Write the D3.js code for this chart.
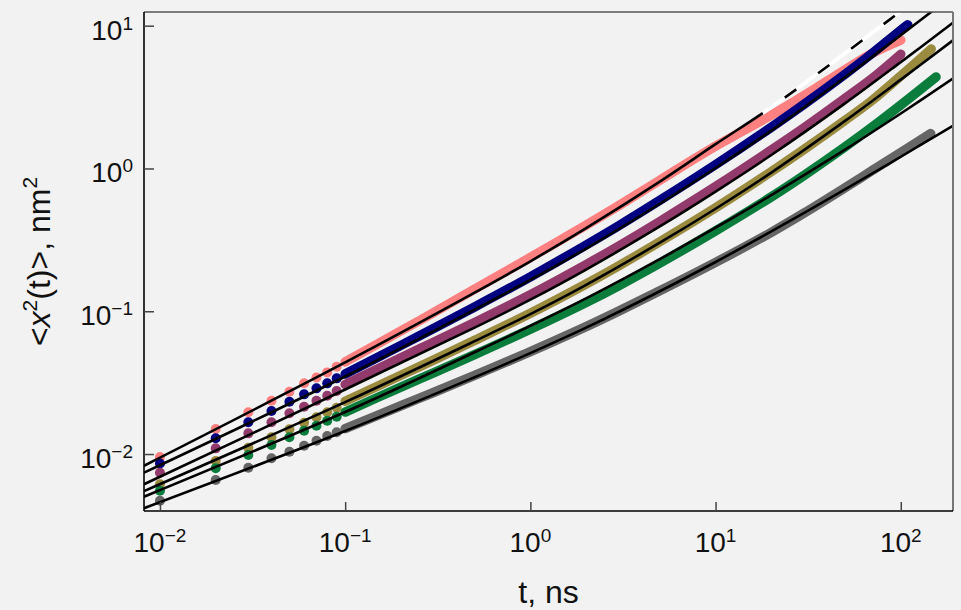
<!DOCTYPE html>
<html><head><meta charset="utf-8">
<script src="https://cdn.jsdelivr.net/npm/d3@7"></script>
<style>
html,body{margin:0;padding:0;background:#f2f2f2;}
svg{display:block;font-family:"Liberation Sans",Arial,Helvetica,sans-serif;}
</style></head><body>
<svg id="chart" width="961" height="610"></svg>
<script>
// ---------- data ----------
// early-time discrete points
const tDots = [0.01, 0.02, 0.03, 0.04, 0.05, 0.06, 0.07, 0.08, 0.09];
const dotsSalmon = [0.00953, 0.01496, 0.01959, 0.0236, 0.0273, 0.0313, 0.0344, 0.0373, 0.0408];
const dotsNavy   = [0.00858, 0.01288, 0.01667, 0.0200, 0.02323, 0.02618, 0.02884, 0.03126, 0.03388];
const dotsPurple = [0.0074, 0.01096, 0.01396, 0.01667, 0.01928, 0.02143, 0.0236, 0.02559, 0.0276];
const dotsOlive  = [0.00614, 0.00893, 0.01107, 0.0131, 0.0149, 0.01656, 0.01807, 0.01959, 0.0211];
const dotsGreen  = [0.00553, 0.00794, 0.00984, 0.01156, 0.0131, 0.01456, 0.01578, 0.0171, 0.01824];
const dotsGray   = [0.00471, 0.00658, 0.00802, 0.00933, 0.01038, 0.01143, 0.01239, 0.01337, 0.01419];

// dense part (points merge into a thick band)
const tBandSalmon = [0.1, 0.2, 0.3, 0.5, 1, 2, 3, 5, 10, 20, 30, 50, 70, 100];
const bandSalmon  = [0.0442, 0.0728, 0.0977, 0.1426, 0.2382, 0.4009, 0.5495, 0.8279, 1.432, 2.36, 3.236, 4.92, 6.397, 7.925];
const tBandNavy   = [0.1, 0.2, 0.3, 0.5, 1, 2, 3, 5, 10, 20, 30, 50, 70, 100, 109];
const bandNavy    = [0.0363, 0.0577, 0.0757, 0.1072, 0.1742, 0.2911, 0.3972, 0.5984, 1.064, 1.945, 2.812, 4.571, 6.397, 9.311, 10.14];
const tBandPurple = [0.1, 0.2, 0.3, 0.5, 1, 2, 3, 5, 10, 20, 30, 50, 70, 100];
const bandPurple  = [0.0307, 0.0472, 0.0607, 0.0834, 0.1306, 0.2123, 0.2864, 0.4256, 0.7464, 1.346, 1.923, 3.097, 4.266, 6.31];
const tBandOlive  = [0.1, 0.2, 0.3, 0.5, 1, 2, 3, 5, 10, 20, 30, 50, 70, 100, 146];
const bandOlive   = [0.0234, 0.0356, 0.0455, 0.0625, 0.0968, 0.1552, 0.208, 0.3069, 0.5309, 0.9506, 1.358, 2.173, 2.999, 4.446, 6.871];
const tBandGreen  = [0.1, 0.2, 0.3, 0.5, 1, 2, 3, 5, 10, 20, 30, 50, 70, 100, 155];
const bandGreen   = [0.01968, 0.02944, 0.03707, 0.04966, 0.07482, 0.1151, 0.151, 0.2173, 0.3656, 0.6324, 0.8933, 1.416, 1.95, 2.786, 4.375];
const tBandGray   = [0.1, 0.2, 0.3, 0.5, 1, 2, 3, 5, 10, 20, 30, 50, 70, 100, 145];
const bandGray    = [0.01507, 0.02178, 0.02698, 0.03556, 0.05212, 0.078, 0.1002, 0.139, 0.2198, 0.3573, 0.4864, 0.7328, 0.9661, 1.294, 1.754];

// fitted curves (black)
const tFit = [0.0082, 0.1, 0.5, 1, 2, 5, 10, 20, 50, 100, 192];
const fit1 = [0.00828, 0.0438, 0.1349, 0.2239, 0.382, 0.809, 1.479, 2.685, 6.41, 12.65, 24.1];
const fit2 = [0.0074, 0.0349, 0.1026, 0.1656, 0.2748, 0.5662, 1.007, 1.841, 4.355, 8.59, 16.37];
const fit3 = [0.00614, 0.0283, 0.0767, 0.1205, 0.1959, 0.3926, 0.6887, 1.242, 2.858, 5.559, 10.52];
const fit4 = [0.0055, 0.0231, 0.0617, 0.0955, 0.1531, 0.302, 0.5224, 0.9354, 2.153, 4.188, 7.925];
const fit5 = [0.00502, 0.01968, 0.0516, 0.0789, 0.123, 0.2317, 0.3846, 0.6516, 1.355, 2.427, 4.276];
const fit6 = [0.00417, 0.01449, 0.0345, 0.0509, 0.0767, 0.138, 0.2213, 0.3622, 0.7129, 1.208, 1.995];
const fit1DashFromT = 18;   // top fit turns into a black/white dashed line

// axes
const xTickVals = [0.01, 0.1, 1, 10, 100];
const xTickExp  = ["\u22122", "\u22121", "0", "1", "2"];
const yTickVals = [0.01, 0.1, 1, 10];
const yTickExp  = ["\u22122", "\u22121", "0", "1"];
const xDomain = [0.0082, 191.4];
const yDomain = [0.00399, 12.47];

// ---------- drawing ----------
const svg = d3.select("#chart");
const L = 144, R = 953, T = 12, B = 511;
svg.append("rect").attr("width", 961).attr("height", 610).attr("fill", "#f2f2f2");

const x = d3.scaleLog().domain(xDomain).range([L, R]);
const y = d3.scaleLog().domain(yDomain).range([B, T]);

const defs = svg.append("defs");
defs.append("clipPath").attr("id", "plotclip").append("rect")
  .attr("x", L).attr("y", T).attr("width", R - L).attr("height", B - T);
defs.append("clipPath").attr("id", "dashclip").append("rect")
  .attr("x", x(fit1DashFromT)).attr("y", T).attr("width", R - x(fit1DashFromT)).attr("height", B - T);

const series = [
  {color: "#ff8080", dots: dotsSalmon, bt: tBandSalmon, bv: bandSalmon},
  {color: "#000080", dots: dotsNavy,   bt: tBandNavy,   bv: bandNavy},
  {color: "#933a6c", dots: dotsPurple, bt: tBandPurple, bv: bandPurple},
  {color: "#9a8b3e", dots: dotsOlive,  bt: tBandOlive,  bv: bandOlive},
  {color: "#0a7d3d", dots: dotsGreen,  bt: tBandGreen,  bv: bandGreen},
  {color: "#666666", dots: dotsGray,   bt: tBandGray,   bv: bandGray}
];

const g = svg.append("g").attr("clip-path", "url(#plotclip)");
const line = d3.line().x(d => x(d[0])).y(d => y(d[1])).curve(d3.curveCatmullRom.alpha(0.5));

series.forEach(s => {
  g.append("path")
    .attr("d", line(s.bt.map((t, i) => [t, s.bv[i]])))
    .attr("fill", "none").attr("stroke", s.color)
    .attr("stroke-width", 9.5).attr("stroke-linecap", "round").attr("stroke-linejoin", "round");
  g.selectAll(null).data(tDots.map((t, i) => [t, s.dots[i]])).enter()
    .append("circle")
    .attr("cx", d => x(d[0])).attr("cy", d => y(d[1])).attr("r", 5)
    .attr("fill", s.color);
});

// fits
const fits = [fit1, fit2, fit3, fit4, fit5, fit6];
fits.forEach((f, k) => {
  const p = g.append("path")
    .attr("d", line(tFit.map((t, i) => [t, f[i]])))
    .attr("fill", "none").attr("stroke", "#000").attr("stroke-width", 2.6);
  if (k === 0) {
    g.append("path")
      .attr("d", line(tFit.map((t, i) => [t, f[i]])))
      .attr("clip-path", "url(#dashclip)")
      .attr("fill", "none").attr("stroke", "#ffffff").attr("stroke-width", 4);
    const node = p.node();
    const total = node.getTotalLength();
    const xs = x(fit1DashFromT);
    let lo = 0, hi = total;
    for (let it = 0; it < 40; it++) {
      const mid = (lo + hi) / 2;
      if (node.getPointAtLength(mid).x < xs) lo = mid; else hi = mid;
    }
    const arr = [lo];
    let acc = lo;
    while (acc < total + 100) { arr.push(27, 14); acc += 41; }
    p.attr("stroke-dasharray", arr.join(" "));
    p.raise();
  }
});

// frame
const frame = svg.append("g");
frame.append("line").attr("x1", L).attr("x2", R).attr("y1", T).attr("y2", T).attr("stroke", "#555").attr("stroke-width", 1.6);
frame.append("line").attr("x1", R).attr("x2", R).attr("y1", T).attr("y2", B).attr("stroke", "#777").attr("stroke-width", 2);
frame.append("line").attr("x1", L).attr("x2", L).attr("y1", T).attr("y2", B).attr("stroke", "#000").attr("stroke-width", 1.6);
frame.append("line").attr("x1", L).attr("x2", R).attr("y1", B).attr("y2", B).attr("stroke", "#000").attr("stroke-width", 1.6);

// axes (inward ticks)
const xAxis = d3.axisBottom(x).tickValues(xTickVals).tickSizeInner(-9).tickSizeOuter(0).tickFormat(() => "");
const yAxis = d3.axisLeft(y).tickValues(yTickVals).tickSizeInner(-10).tickSizeOuter(0).tickFormat(() => "");
const gx = svg.append("g").attr("transform", `translate(0,${B})`).call(xAxis);
const gy = svg.append("g").attr("transform", `translate(${L},0)`).call(yAxis);
[gx, gy].forEach(a => {
  a.select(".domain").remove();
  a.selectAll(".tick line").attr("stroke", "#444").attr("stroke-width", 1.5);
  a.selectAll(".tick text").remove();
});

function powLabel(sel, exp) {
  sel.append("tspan").text("10");
  sel.append("tspan").attr("font-size", 19).attr("dy", -10).text(exp);
}
xTickVals.forEach((v, i) => {
  const t = svg.append("text").attr("x", x(v)).attr("y", 552)
    .attr("text-anchor", "middle").attr("font-size", 28).attr("fill", "#111");
  powLabel(t, xTickExp[i]);
});
yTickVals.forEach((v, i) => {
  const t = svg.append("text").attr("x", 133).attr("y", y(v) + 14)
    .attr("text-anchor", "end").attr("font-size", 28).attr("fill", "#111");
  powLabel(t, yTickExp[i]);
});

// axis titles
svg.append("text").attr("x", (L + R) / 2).attr("y", 603)
  .attr("text-anchor", "middle").attr("font-size", 32).attr("fill", "#111").text("t, ns");

const yl = svg.append("text")
  .attr("transform", `translate(50,${(T + B) / 2}) rotate(-90)`)
  .attr("text-anchor", "middle").attr("font-size", 32).attr("fill", "#111");
yl.append("tspan").text("<");
yl.append("tspan").attr("font-style", "italic").text("x");
yl.append("tspan").attr("font-size", 21).attr("dy", -13).text("2");
yl.append("tspan").attr("dy", 13).text("(t)>, nm");
yl.append("tspan").attr("font-size", 21).attr("dy", -13).text("2");
</script>
</body></html>
